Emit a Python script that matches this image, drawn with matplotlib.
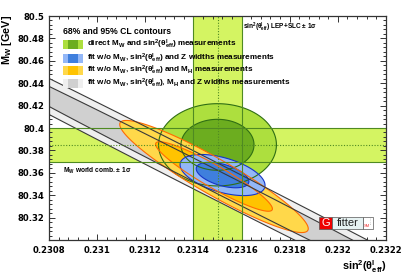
import numpy as np
import matplotlib
matplotlib.use("Agg")
import matplotlib.pyplot as plt
from matplotlib.patches import Polygon, Rectangle
from matplotlib.ticker import MultipleLocator, FixedLocator, FixedFormatter

plt.rcParams['mathtext.default'] = 'regular'

# ---------------- data ----------------
# direct measurements (1 sigma bands)
sin2_lep, sin2_lep_err = 0.23150, 0.00010
mw_world, mw_world_err = 80.385, 0.015

# contour sets: green (direct), blue (w/o Z widths), orange (w/o MH), gray (w/o MH and Z widths)
cont_names = ["direct", "noZ", "noMH", "noMHZ"]
cont_sin2 = [0.23150, 0.231521, 0.2314854, 0.231483]
cont_mw = [80.385, 80.358, 80.3567, 80.3536]
cont_sig_sin2 = [0.00010, 0.0000721, 0.00016, 0.00085]
cont_sig_mw = [0.015, 0.0075, 0.02045, 0.0931]
cont_rho = [0.0, -0.5, -0.93, -0.9972]

cl_dchi2 = [2.30, 5.99]  # 68% and 95% CL in 2D

legend_labels = [
    r"direct M$_{W}$ and sin$^{2}$($\theta^{l}_{eff}$) measurements",
    r"fit w/o M$_{W}$, sin$^{2}$($\theta^{l}_{eff}$) and Z widths measurements",
    r"fit w/o M$_{W}$, sin$^{2}$($\theta^{l}_{eff}$) and M$_{H}$ measurements",
    r"fit w/o M$_{W}$, sin$^{2}$($\theta^{l}_{eff}$), M$_{H}$ and Z widths measurements",
]

xtick_vals = [0.2308, 0.2310, 0.2312, 0.2314, 0.2316, 0.2318, 0.2320, 0.2322]
xtick_labels = ["0.2308", "0.231", "0.2312", "0.2314", "0.2316", "0.2318", "0.232", "0.2322"]
ytick_vals = [80.30, 80.32, 80.34, 80.36, 80.38, 80.40, 80.42, 80.44, 80.46, 80.48, 80.50]
ytick_labels = ["", "80.32", "80.34", "80.36", "80.38", "80.4", "80.42", "80.44", "80.46", "80.48", "80.5"]

# ---------------- style ----------------
band_col = '#d4f462'
band_line = '#4f8a22'
fill_outer = ['#addf3e', '#93b7f7', '#ffd84a', '#efefef']
fill_inner = ['#6cad1f', '#3f7fdd', '#ffc300', '#d0d0d0']
edge_cols = ['#2f6e14', '#1434c8', '#ff6a00', '#3a3a3a']
fill_z = {"noMHZ": 2, "direct": 3, "noMH": 4, "noZ": 5}

W, H = 407, 276
fig = plt.figure(figsize=(W / 100, H / 100), dpi=100)
ax = fig.add_axes([49 / W, 36 / H, 337 / W, 224 / H])
ax.set_xlim(0.2308, 0.2322)
ax.set_ylim(80.30, 80.50)

# bands
ax.axvspan(sin2_lep - sin2_lep_err, sin2_lep + sin2_lep_err, color=band_col, lw=0, zorder=1)
ax.axhspan(mw_world - mw_world_err, mw_world + mw_world_err, color=band_col, lw=0, zorder=1)


def ellipse_pts(mx, my, sx, sy, r, d2, n=400):
    t = np.linspace(0, 2 * np.pi, n)
    k = np.sqrt(d2)
    u = np.cos(t)
    v = np.sin(t)
    x = mx + k * sx * u
    y = my + k * sy * (r * u + np.sqrt(1 - r * r) * v)
    return np.column_stack([x, y])


for i, name in enumerate(cont_names):
    z = fill_z[name]
    for j, d2 in enumerate(cl_dchi2[::-1]):
        pts = ellipse_pts(cont_sin2[i], cont_mw[i], cont_sig_sin2[i], cont_sig_mw[i], cont_rho[i], d2)
        col = fill_outer[i] if j == 0 else fill_inner[i]
        ax.add_patch(Polygon(pts, closed=True, facecolor=col, edgecolor='none', zorder=z + j * 0.1))
        ax.add_patch(Polygon(pts, closed=True, facecolor='none', edgecolor=edge_cols[i],
                             lw=0.8, zorder=8))

# band lines
for xv in [sin2_lep - sin2_lep_err, sin2_lep + sin2_lep_err]:
    ax.axvline(xv, color=band_line, lw=0.8, zorder=9)
for yv in [mw_world - mw_world_err, mw_world + mw_world_err]:
    ax.axhline(yv, color=band_line, lw=0.8, zorder=9)
ax.axvline(sin2_lep, color=band_line, lw=0.8, ls=(0, (1, 1.5)), zorder=9)
ax.axhline(mw_world, color=band_line, lw=0.8, ls=(0, (1, 1.5)), zorder=9)

# ticks
ax.xaxis.set_major_locator(FixedLocator(xtick_vals))
ax.xaxis.set_major_formatter(FixedFormatter(xtick_labels))
ax.yaxis.set_major_locator(FixedLocator(ytick_vals))
ax.yaxis.set_major_formatter(FixedFormatter(ytick_labels))
ax.xaxis.set_minor_locator(MultipleLocator(0.00004))
ax.yaxis.set_minor_locator(MultipleLocator(0.004))
ax.tick_params(which='both', direction='in', top=True, right=True, color='#333333', width=0.7)
ax.tick_params(which='major', length=4.5)
ax.tick_params(which='minor', length=2.2)
ax.tick_params(axis='x', pad=4)
ax.tick_params(axis='y', pad=3.5)
for lab in ax.get_xticklabels() + ax.get_yticklabels():
    lab.set_fontfamily('DejaVu Sans')
    lab.set_fontweight('bold')
    lab.set_fontsize(6.1)
for s in ax.spines.values():
    s.set_linewidth(0.9)
    s.set_color('#333333')
    s.set_zorder(20)

# axis titles
fig.text(7 / W, 1 - 15 / H, r"M$_{W}$ [GeV]", rotation=90, ha='center', va='top',
         family='Liberation Sans', weight='bold', fontsize=7.8)
fig.text(387 / W, 1 - 267 / H, r"sin$^{2}$($\theta^{l}_{eff}$)", ha='right', va='center',
         family='Liberation Sans', weight='bold', fontsize=7.8)

# legend (manual)
def fx(px):
    return (px - 49) / 337


def fy(py):
    return (240 - py) / 224


ax.text(fx(63), fy(31), "68% and 95% CL contours", transform=ax.transAxes, ha='left', va='center',
        family='Liberation Sans', weight='bold', fontsize=6.2, zorder=30)
rows_py = [44.5, 58, 70.5, 83]
for i, py in enumerate(rows_py):
    ax.add_patch(Rectangle((fx(63), fy(py + 4.5)), fx(83) - fx(63), 9 / 224, transform=ax.transAxes,
                           facecolor=fill_outer[i], edgecolor='none', zorder=30))
    ax.add_patch(Rectangle((fx(68), fy(py + 4.5)), fx(78) - fx(68), 9 / 224, transform=ax.transAxes,
                           facecolor=fill_inner[i], edgecolor='none', zorder=31))
    ax.text(fx(87), fy(py), legend_labels[i], transform=ax.transAxes, ha='left', va='center',
            family='Liberation Sans', weight='bold', fontsize=5.9, zorder=30)

ax.text(fx(243), fy(27), r"sin$^{2}$($\theta^{l}_{eff}$) LEP+SLC $\pm$ 1$\sigma$", transform=ax.transAxes,
        ha='left', va='center', family='Liberation Sans', weight='bold', fontsize=4.7, zorder=30)
ax.text(fx(63), fy(171), r"M$_{W}$ world comb. $\pm$ 1$\sigma$", transform=ax.transAxes,
        ha='left', va='center', family='Liberation Sans', weight='bold', fontsize=4.8, zorder=30)

# Gfitter logo
ax.add_patch(Rectangle((fx(319), fy(229)), fx(332) - fx(319), 12 / 224, transform=ax.transAxes,
                       facecolor='#ee0000', edgecolor='#555555', lw=0.5, zorder=40))
ax.text((fx(319) + fx(332)) / 2, fy(223), "G", transform=ax.transAxes, ha='center', va='center',
        color='white', family='Liberation Sans', fontsize=8, zorder=41)
ax.add_patch(Rectangle((fx(332), fy(229)), fx(363) - fx(332), 12 / 224, transform=ax.transAxes,
                       facecolor='#e6f2f2', edgecolor='#555555', lw=0.5, zorder=40))
ax.text((fx(332) + fx(363)) / 2, fy(223), "fitter", transform=ax.transAxes, ha='center', va='center',
        color='#222222', family='Liberation Sans', fontsize=8, zorder=41)
ax.add_patch(Rectangle((fx(363), fy(229)), fx(373) - fx(363), 12 / 224, transform=ax.transAxes,
                       facecolor='white', edgecolor='#555555', lw=0.5, zorder=40))
ax.text((fx(363) + fx(370)) / 2, fy(226), "SM", transform=ax.transAxes, ha='center', va='center',
        color='#ee3333', family='Liberation Sans', fontsize=3, zorder=41)
ax.text(fx(371.5), fy(221), "B L A P", transform=ax.transAxes, ha='center', va='center', rotation=90,
        color='#999999', family='Liberation Sans', fontsize=1.5, zorder=41)

fig.savefig("out.png", dpi=100)
